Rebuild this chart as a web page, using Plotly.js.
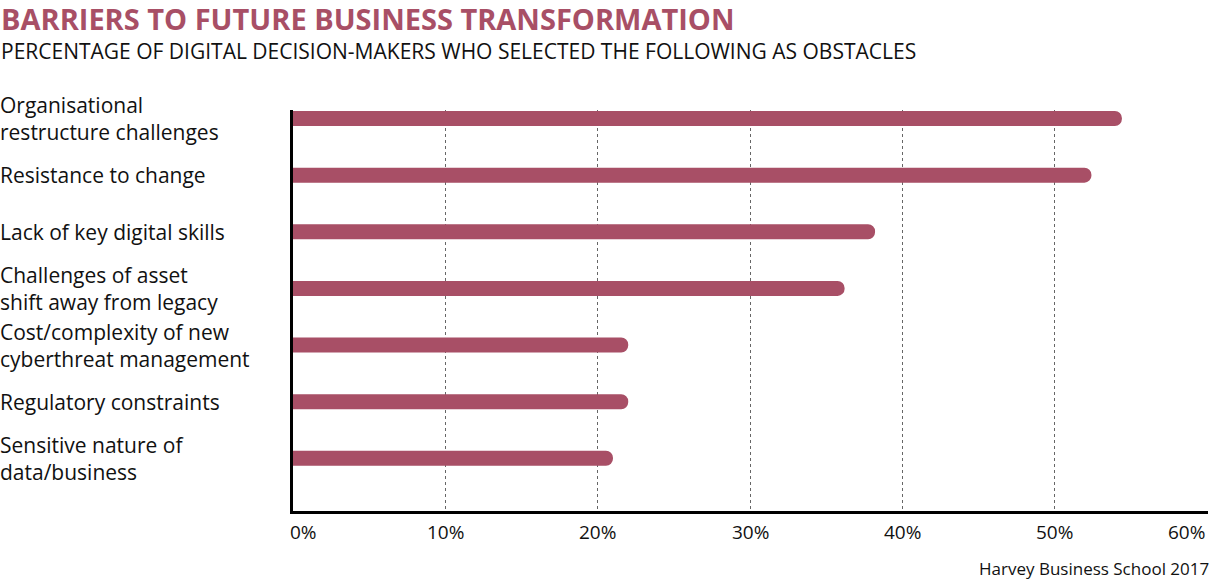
<!DOCTYPE html>
<html>
<head>
<meta charset="utf-8">
<script src="https://cdn.plot.ly/plotly-3.0.1.min.js"></script>
<style>html,body{margin:0;padding:0;background:#fff;}#chart{width:1215px;height:580px;}</style>
</head>
<body>
<div id="chart"></div>
<script>
const categories = [
  "Organisational<br>restructure challenges",
  "Resistance to change",
  "Lack of key digital skills",
  "Challenges of asset<br>shift away from legacy",
  "Cost/complexity of new<br>cyberthreat management",
  "Regulatory constraints",
  "Sensitive nature of<br>data/business"
];
const values = [54.4, 52.4, 38.2, 36.2, 22.0, 22.0, 21.0];
const tickValues = [0, 10, 20, 30, 40, 50, 60];
const tickLabels = ["0%", "10%", "20%", "30%", "40%", "50%", "60%"];

const FONT = "Open Sans, sans-serif";
const BAR = "#A84F66";
const W = 1215, H = 580;
const M = {l: 293, r: 7, t: 110, b: 69};
const plotW = W - M.l - M.r;

const annotations = [];
annotations.push({
  text: "<b>BARRIERS TO FUTURE BUSINESS TRANSFORMATION</b>",
  xref: "paper", yref: "paper", x: -M.l / plotW, y: 1, xanchor: "left", yanchor: "middle",
  yshift: M.t - 18, xshift: -1, showarrow: false, font: {family: FONT, size: 29, color: BAR}
});
annotations.push({
  text: "PERCENTAGE OF DIGITAL DECISION-MAKERS WHO SELECTED THE FOLLOWING AS OBSTACLES",
  xref: "paper", yref: "paper", x: -M.l / plotW, y: 1, xanchor: "left", yanchor: "middle",
  yshift: M.t - 51, xshift: -1, showarrow: false, font: {family: FONT, size: 21, color: "#111"}
});
categories.forEach(function (c) {
  annotations.push({
    text: c, xref: "paper", yref: "y", x: -M.l / plotW, y: c, xanchor: "left", yanchor: "middle",
    align: "left", xshift: -2, showarrow: false, font: {family: FONT, size: 21, color: "#111"}
  });
});
tickValues.forEach(function (v, i) {
  annotations.push({
    text: tickLabels[i], xref: "x", yref: "paper", x: v, y: 0,
    xanchor: i === 0 ? "left" : (i === tickValues.length - 1 ? "right" : "center"),
    xshift: i === 0 ? -5 : 0,
    yanchor: "middle", yshift: -21, showarrow: false,
    font: {family: FONT, size: 19, color: "#111"}
  });
});
annotations.push({
  text: "Harvey Business School 2017", xref: "paper", yref: "paper", x: 1, y: 0,
  xanchor: "right", yanchor: "middle", xshift: 3, yshift: -57, showarrow: false,
  font: {family: FONT, size: 17, color: "#111"}
});

const trace = {
  type: "bar", orientation: "h", x: values, y: categories,
  marker: {color: BAR, cornerradius: "50%"}, hoverinfo: "skip", width: 0.265
};

const layout = {
  width: W, height: H, margin: M, paper_bgcolor: "#fff", plot_bgcolor: "#fff",
  showlegend: false, font: {family: FONT},
  xaxis: {
    range: [0, 60.05], tickvals: tickValues, showticklabels: false, ticks: "",
    showgrid: true, griddash: "dot", gridcolor: "#666", gridwidth: 1,
    showline: true, linecolor: "#000", linewidth: 3, zeroline: false, fixedrange: true
  },
  yaxis: {
    type: "category", categoryorder: "array", categoryarray: categories,
    range: [6.93, -0.15], showticklabels: false, ticks: "", showgrid: false,
    showline: true, linecolor: "#000", linewidth: 3, zeroline: false, fixedrange: true
  },
  annotations: annotations
};

Plotly.newPlot("chart", [trace], layout, {displayModeBar: false, staticPlot: true});
</script>
</body>
</html>
